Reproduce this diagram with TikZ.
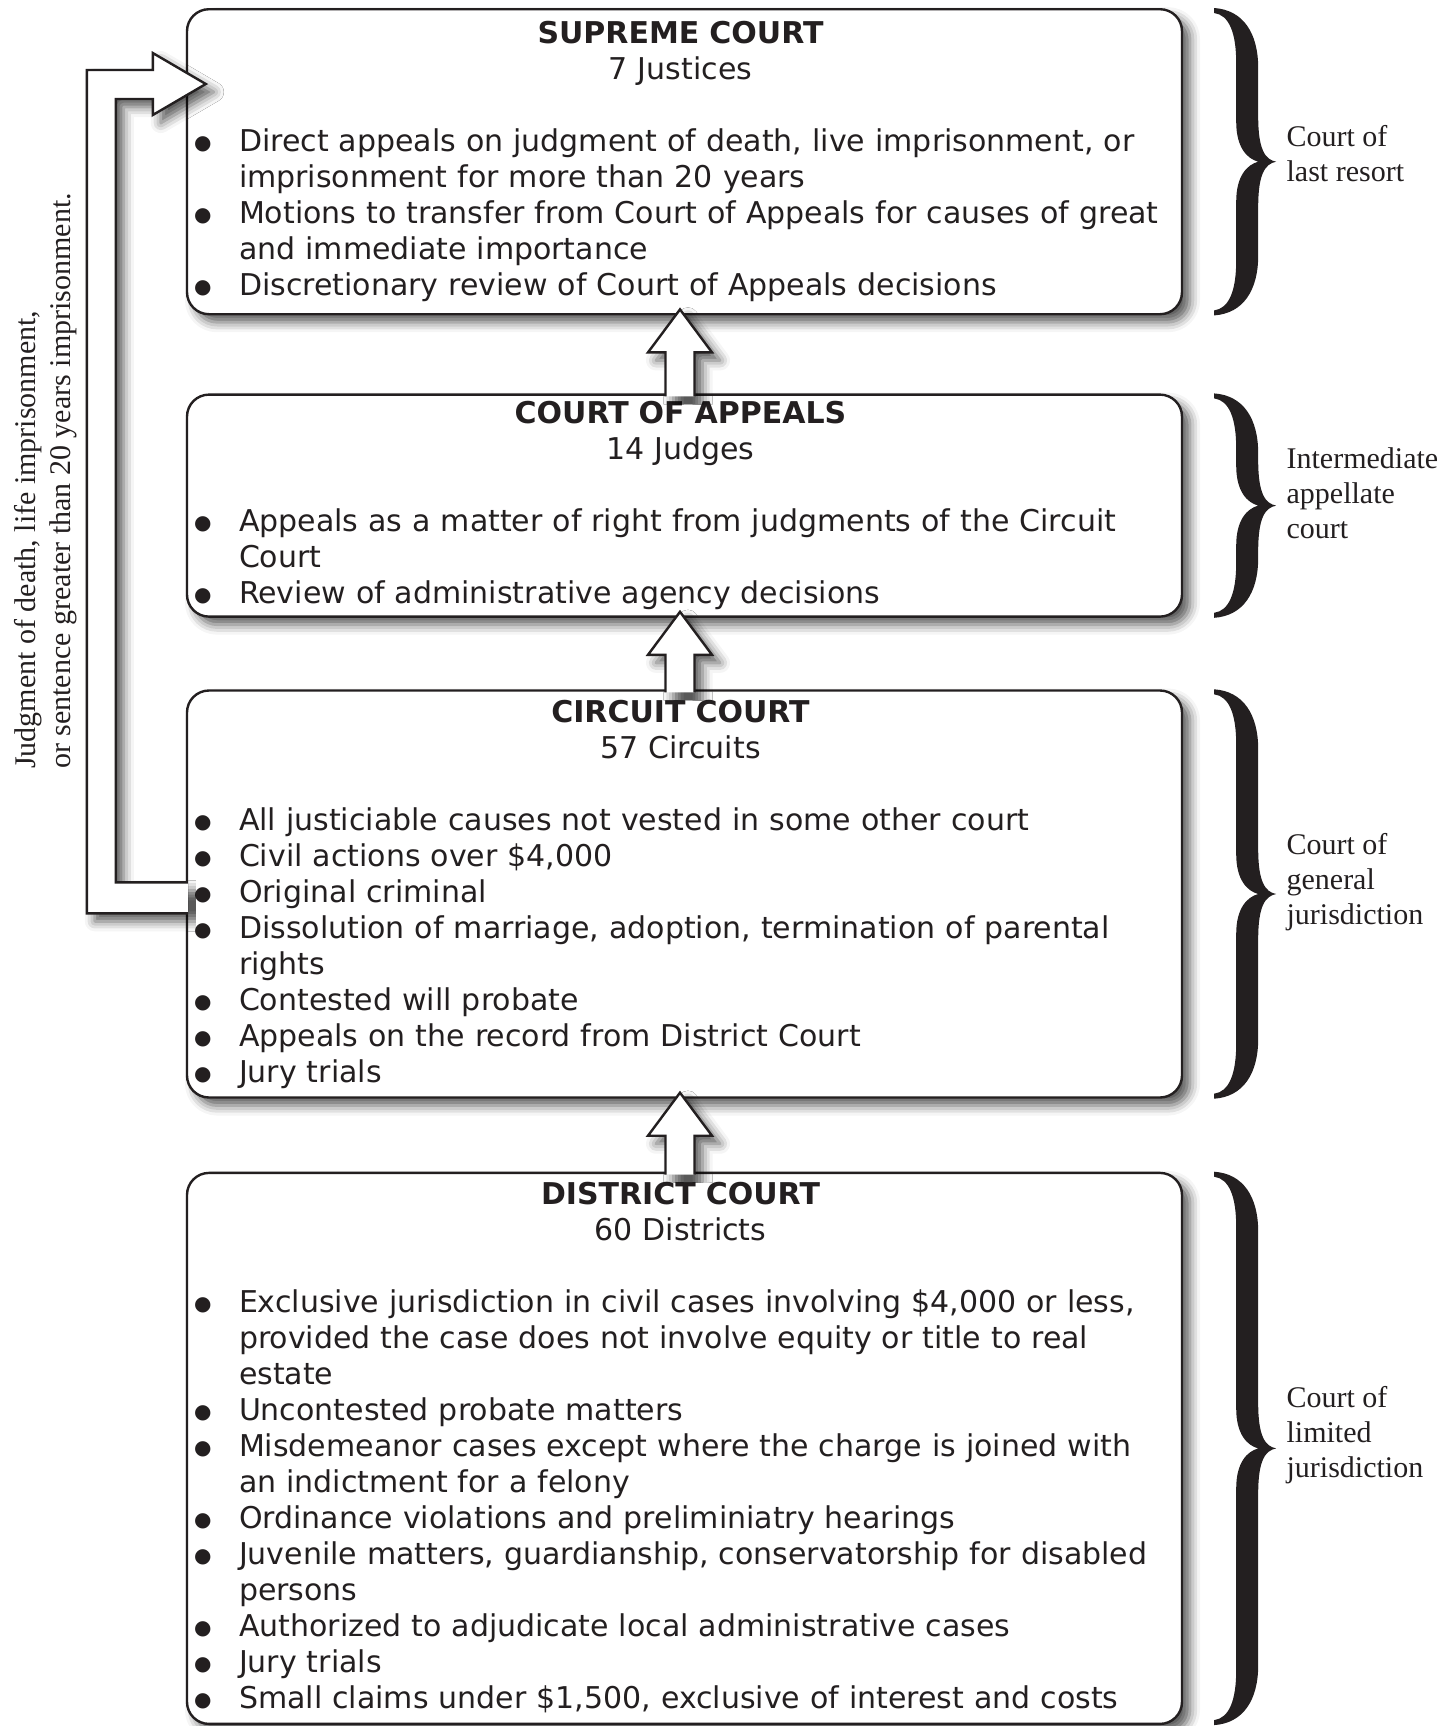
\documentclass[tikz,border=0pt]{standalone}
\usepackage{fontspec}
\setmainfont{DejaVu Sans}
\newfontfamily\labelfont{Liberation Serif}
\usepackage{tikz}
\usetikzlibrary{calc,positioning,shadows.blur}
\definecolor{ink}{RGB}{35,31,32}
\setlength{\parskip}{0pt}
\setlength{\parindent}{0pt}
% court name and size, centred on top of the box
\newcommand{\courthead}[2]{\makebox[\linewidth][c]{\textbf{#1}\hspace{4pt}}\par
	\makebox[\linewidth][c]{#2\hspace{4pt}}\par\vspace{18pt}}
% one bullet line with hanging indent, \nl breaks inside it
\newcommand{\bul}{\par\hangindent=21pt\hangafter=1\noindent
	\makebox[21pt][l]{\hspace*{-1.5pt}\raisebox{1pt}{\fontsize{10pt}{18pt}\selectfont ●}}}
\newcommand{\nl}{\hfil\break}
\tikzset{%
	court/.style      = {draw=ink, fill=white, line width=1.2pt, rectangle, rounded corners=11pt,
	                     inner xsep=5pt, inner ysep=0pt, text width=487.5pt, align=left, text=ink,
	                     font=\fontsize{15pt}{18pt}\selectfont,
	                     blur shadow={shadow xshift=4pt, shadow yshift=-4pt, shadow blur radius=5pt, shadow opacity=65}}, % Court box
	blockarrow/.style = {draw=ink, fill=white, line width=1.2pt, line join=miter,
	                     blur shadow={shadow xshift=4pt, shadow yshift=-4pt, shadow blur radius=5pt, shadow opacity=65}}, % Hollow arrow
	courtlabel/.style = {text=ink, inner sep=0pt, align=left, font=\labelfont\fontsize{15pt}{17.5pt}\selectfont}, % Side text
}

\begin{document}
\begin{tikzpicture}[x=0.5pt,y=-0.5pt]
	\useasboundingbox (0,0) rectangle (1456,1726);
	\node [court,anchor=north,text height=17pt,text depth=135.5pt] (sc) at (684.5,8) {%
		\courthead{SUPREME COURT}{7 Justices}%
		\bul Direct appeals on judgment of death, live imprisonment, or\nl imprisonment for more than 20 years
		\bul Motions to transfer from Court of Appeals for causes of great\nl and immediate importance
		\bul Discretionary review of Court of Appeals decisions};
	\node [court,below=39pt of sc,text height=14.5pt,text depth=96.5pt] (ca) {%
		\courthead{COURT OF APPEALS}{14 Judges}%
		\bul Appeals as a matter of right from judgments of the Circuit\nl Court
		\bul Review of administrative agency decisions};
	\node [court,below=35.75pt of ca,text height=16pt,text depth=187.5pt] (cc) {%
		\courthead{CIRCUIT COURT}{57 Circuits}%
		\bul All justiciable causes not vested in some other court
		\bul Civil actions over \$4,000
		\bul Original criminal
		\bul Dissolution of marriage, adoption, termination of parental\nl rights
		\bul Contested will probate
		\bul Appeals on the record from District Court
		\bul Jury trials};
	\node [court,below=36.5pt of cc,text height=16pt,text depth=259.5pt] (dc) {%
		\courthead{DISTRICT COURT}{60 Districts}%
		\bul Exclusive jurisdiction in civil cases involving \$4,000 or less,\nl provided the case does not involve equity or title to real\nl estate
		\bul Uncontested probate matters
		\bul Misdemeanor cases except where the charge is joined with\nl an indictment for a felony
		\bul Ordinance violations and preliminiatry hearings
		\bul Juvenile matters, guardianship, conservatorship for disabled\nl persons
		\bul Authorized to adjudicate local administrative cases
		\bul Jury trials
		\bul Small claims under \$1,500, exclusive of interest and costs};
	
	% appeals from one court up to the next
	\foreach \lo/\hi in {ca/sc,cc/ca,dc/cc}
		\draw[blockarrow] ($(\lo.north)+(-19,3)$) -- ($(\hi.south)+(-19,37)$) -- ++(-17.5,0)
			-- ($(\hi.south)+(-4.5,-6)$) -- ($(\hi.south)+(27.5,37)$) -- ++(-17.5,0) -- ($(\lo.north)+(10,3)$);
	% direct appeal from circuit to supreme court
	\draw[blockarrow] ($(cc.north west)+(2,193)$) -- ++(-72,0) |- ($(sc.north west)+(-33,91)$) -- ++(0,16)
		-- ($(sc.north west)+(20,76)$) -- ($(sc.north west)+(-33,45)$) -- ++(0,17)
		-| ($(cc.north west)+(-99,224)$) -- ++(101,0);
	\node [courtlabel,rotate=90] (jump) at (46,481) {Judgment of death, life imprisonment,\\or sentence greater than 20 years imprisonment.};
	
	% braces on the right
	\foreach \c in {sc,ca,cc,dc}
		\fill[ink] ($(\c.north east)+(31,0)$)
			.. controls ($(\c.north east)+(60,2)$) and ($(\c.north east)+(75,25)$) .. ($(\c.north east)+(75,60)$)
			-- ($(\c.east)+(75,-45)$)
			.. controls ($(\c.east)+(75,-12)$) and ($(\c.east)+(82,-2)$) .. ($(\c.east)+(93,0)$)
			.. controls ($(\c.east)+(82,2)$) and ($(\c.east)+(75,12)$) .. ($(\c.east)+(75,45)$)
			-- ($(\c.south east)+(75,-60)$)
			.. controls ($(\c.south east)+(75,-25)$) and ($(\c.south east)+(60,-2)$) .. ($(\c.south east)+(31,0)$)
			-- ($(\c.south east)+(31,-5)$)
			.. controls ($(\c.south east)+(46,-7)$) and ($(\c.south east)+(53,-25)$) .. ($(\c.south east)+(53,-55)$)
			-- ($(\c.east)+(53,40)$)
			.. controls ($(\c.east)+(53,14)$) and ($(\c.east)+(64,3)$) .. ($(\c.east)+(75,0)$)
			.. controls ($(\c.east)+(64,-3)$) and ($(\c.east)+(53,-14)$) .. ($(\c.east)+(53,-40)$)
			-- ($(\c.north east)+(53,55)$)
			.. controls ($(\c.north east)+(53,25)$) and ($(\c.north east)+(46,7)$) .. ($(\c.north east)+(31,5)$)
			-- cycle;
	\node [courtlabel,anchor=west] (lsc) at ($(sc.east)+(103,-8)$) {Court of\\last resort};
	\node [courtlabel,anchor=west] (lca) at ($(ca.east)+(103,-12)$) {Intermediate\\appellate\\court};
	\node [courtlabel,anchor=west] (lcc) at ($(cc.east)+(103,-12)$) {Court of\\general\\jurisdiction};
	\node [courtlabel,anchor=west] (ldc) at ($(dc.east)+(103,-13)$) {Court of\\limited\\jurisdiction};
\end{tikzpicture}
\end{document}
